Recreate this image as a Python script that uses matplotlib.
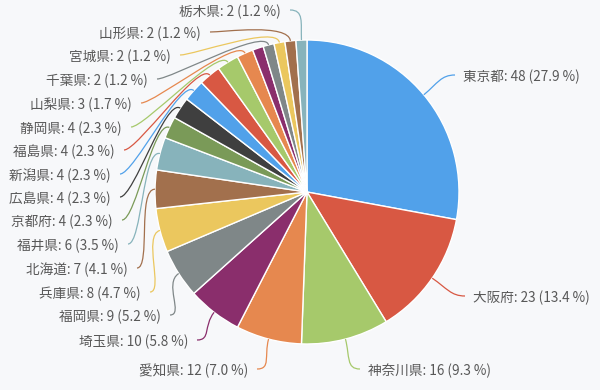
import numpy as np
import matplotlib.pyplot as plt
from matplotlib.path import Path
from matplotlib.patches import PathPatch

plt.rcParams['font.family'] = ['Noto Sans CJK JP', 'DejaVu Sans']

# data (one small slice has no visible label)
prefs = ["東京都", "大阪府", "神奈川県", "愛知県", "埼玉県", "福岡県", "兵庫県", "北海道",
         "福井県", "京都府", "広島県", "新潟県", "福島県", "静岡県", "山梨県", "",
         "千葉県", "宮城県", "山形県", "栃木県"]
counts = [48, 23, 16, 12, 10, 9, 8, 7, 6, 4, 4, 4, 4, 4, 3, 2, 2, 2, 2, 2]

palette = ["#51a1ea", "#d85843", "#a6c96b", "#e6884f", "#8a2e6c", "#7f8788",
           "#ebc75e", "#a2704d", "#87b3bb", "#7a9a58", "#3f3f3f"]
colors = [palette[i % len(palette)] for i in range(len(counts))]

# label line end points in pixels (x, y from top), side of text
label_ends = [(455, 75, 'r'), (465, 296, 'r'), (360, 369, 'r'), (257, 369, 'l'),
              (197, 340, 'l'), (170, 315, 'l'), (150, 292, 'l'), (137, 268, 'l'),
              (128, 244, 'l'), (122, 220, 'l'), (120, 197, 'l'), (120, 174, 'l'),
              (124, 150, 'l'), (131, 127, 'l'), (141, 103, 'l'), None,
              (157, 79, 'l'), (180, 55, 'l'), (210, 32, 'l'), (290, 10, 'l')]

W, H = 600, 390
cx, cy, r = 307, H - 192, 152

fig = plt.figure(figsize=(6, 3.9), dpi=100)
fig.patch.set_facecolor('#f7f8fa')
ax = fig.add_axes([0, 0, 1, 1])
ax.set_facecolor('#f7f8fa')

ax.pie(counts, colors=colors, startangle=90, counterclock=False,
       center=(cx, cy), radius=r,
       wedgeprops=dict(edgecolor='white', linewidth=1))

total = sum(counts)
cum = 0
for name, v, col, le in zip(prefs, counts, colors, label_ends):
    mid = np.deg2rad(90 - 360 * (cum + v / 2) / total)
    cum += v
    if le is None:
        continue
    ux, uy = np.cos(mid), np.sin(mid)
    p0 = (cx + r * ux, cy + r * uy)
    c1 = (cx + (r + 18) * ux, cy + (r + 18) * uy)
    lx, ly, side = le
    ly = H - ly
    dx = 14 if side == 'l' else -14
    c2 = (lx + dx, ly)
    p3 = (lx, ly)
    path = Path([p0, c1, c2, p3], [Path.MOVETO, Path.CURVE4, Path.CURVE4, Path.CURVE4])
    ax.add_patch(PathPatch(path, fill=False, edgecolor=col, linewidth=0.9))
    pct = 100 * v / total
    txt = f"{name}: {v} ({pct:.1f} %)"
    if side == 'l':
        ax.text(lx - 9, ly - 2, txt, ha='right', va='center', fontsize=9.8, color='#585858')
    else:
        ax.text(lx + 8, ly - 2, txt, ha='left', va='center', fontsize=9.8, color='#585858')

ax.set_xlim(0, W)
ax.set_ylim(0, H)
ax.set_aspect('equal')
ax.axis('off')

fig.savefig('out.png', dpi=100, facecolor=fig.get_facecolor())
